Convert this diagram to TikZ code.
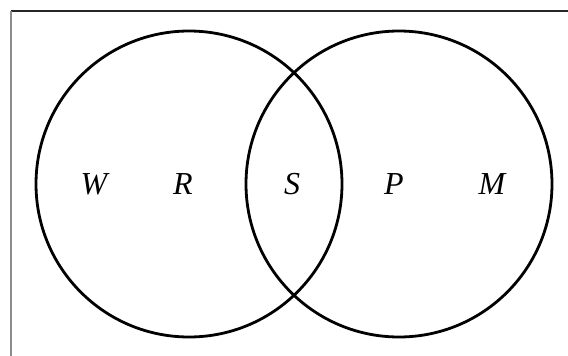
\documentclass[tikz,border=0pt]{standalone}
\usepackage{fontspec}
\setmainfont{Liberation Serif}
\tikzset{
  setcircle/.style={draw, circle, line width=2.8pt, minimum size=306pt, inner sep=0pt},
  setlabel/.style={font=\fontsize{32}{32}\selectfont\itshape, inner sep=0pt}
}
\begin{document}
\begin{tikzpicture}[x=1pt, y=-1pt]
    \useasboundingbox (0,0) rectangle (568,356);
    \draw[line width=2pt, black!85] (11,11) -- (568,11);
    \draw[line width=2pt, black!45] (11,11) -- (11,356);

    \node[setcircle] (left) at (189,184) {};
    \node[setcircle] (right) at (399,184) {};

    \node[setlabel] (w) at (94,184) {W};
    \node[setlabel] (r) at (183,184) {R};
    \node[setlabel] (s) at (292,184) {S};
    \node[setlabel] (p) at (394,184) {P};
    \node[setlabel] (m) at (492,184) {M};
\end{tikzpicture}
\end{document}
